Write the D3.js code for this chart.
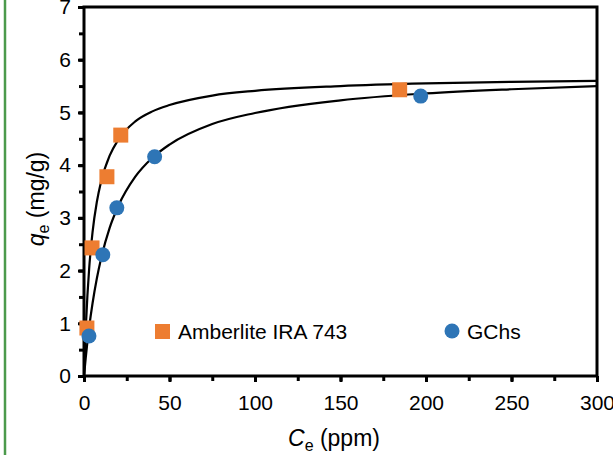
<!DOCTYPE html>
<html><head><meta charset="utf-8">
<script src="https://cdn.jsdelivr.net/npm/d3@7"></script>
<style>html,body{margin:0;padding:0;background:#fff;}svg{display:block;}</style>
</head><body>
<svg id="c" width="613" height="455"></svg>
<script>
// Data
const amberliteC = [1.7, 4.7, 13.4, 21.5, 184.6];
const amberliteQ = [0.91, 2.43, 3.78, 4.57, 5.43];
const gchsC = [2.9, 11, 19.2, 41.3, 196.9];
const gchsQ = [0.76, 2.30, 3.19, 4.16, 5.31];
// Fitted curves
const fitAmbC = [0, 0.5, 1, 2, 3, 5, 7.5, 10, 15, 20, 30, 40, 50, 75, 100, 150, 200, 250, 300];
const fitAmbQ = [0, 0.48, 0.885, 1.53, 2.03, 2.73, 3.30, 3.69, 4.18, 4.48, 4.83, 5.02, 5.14, 5.32, 5.41, 5.50, 5.55, 5.58, 5.60];
const fitGChC = [0, 1, 2, 3, 5, 7.5, 10, 15, 20, 30, 40, 50, 75, 100, 150, 200, 250, 300];
const fitGChQ = [0, 0.34, 0.645, 0.92, 1.38, 1.85, 2.23, 2.81, 3.22, 3.78, 4.14, 4.39, 4.78, 4.99, 5.23, 5.36, 5.44, 5.50];
const xTicks = [0, 50, 100, 150, 200, 250, 300];
const yTicks = [0, 1, 2, 3, 4, 5, 6, 7];
const seriesNames = ["Amberlite IRA 743", "GChs"];
const colors = ["#ED7D31", "#2E75B6"];

const svg = d3.select("#c");
const x = d3.scaleLinear().domain([0, 300]).range([84, 597]);
const y = d3.scaleLinear().domain([0, 7]).range([376, 7]);
const font = "Arial, 'Liberation Sans', sans-serif";

// green side line
svg.append("line").attr("x1", 5).attr("x2", 5).attr("y1", 0).attr("y2", 455)
  .attr("stroke", "#4C9A4C").attr("stroke-width", 2.5);

// minor ticks
const gx = svg.append("g").attr("transform", "translate(0,376)");
gx.call(d3.axisBottom(x).tickValues(d3.range(0, 301, 25)).tickSize(5).tickFormat(""));
gx.select(".domain").remove();
gx.selectAll("line").attr("stroke", "#000").attr("stroke-width", 3);
const gxl = svg.append("g").attr("transform", "translate(0,376)");
gxl.call(d3.axisBottom(x).tickValues(xTicks).tickSize(6).tickPadding(13).tickFormat(d3.format("d")));
gxl.select(".domain").remove();
gxl.selectAll("line").attr("stroke", "#000").attr("stroke-width", 3);
gxl.selectAll("text").attr("font-family", font).attr("font-size", 21).attr("fill", "#000");

const gy = svg.append("g").attr("transform", "translate(84,0)");
gy.call(d3.axisLeft(y).tickValues(d3.range(0, 7.01, 0.5)).tickSize(5).tickFormat(""));
gy.select(".domain").remove();
gy.selectAll("line").attr("stroke", "#000").attr("stroke-width", 3);
const gyl = svg.append("g").attr("transform", "translate(84,0)");
gyl.call(d3.axisLeft(y).tickValues(yTicks).tickSize(6).tickPadding(7).tickFormat(d3.format("d")));
gyl.select(".domain").remove();
gyl.selectAll("line").attr("stroke", "#000").attr("stroke-width", 3);
gyl.selectAll("text").attr("font-family", font).attr("font-size", 21).attr("fill", "#000");

// frame
svg.append("rect").attr("x", x(0)).attr("y", y(7)).attr("width", x(300) - x(0)).attr("height", y(0) - y(7))
  .attr("fill", "none").attr("stroke", "#000").attr("stroke-width", 3);

// fitted curves
const line = d3.line().x(d => x(d[0])).y(d => y(d[1])).curve(d3.curveMonotoneX);
svg.append("path").datum(fitAmbC.map((c, i) => [c, fitAmbQ[i]])).attr("d", line)
  .attr("fill", "none").attr("stroke", "#000").attr("stroke-width", 2.2);
svg.append("path").datum(fitGChC.map((c, i) => [c, fitGChQ[i]])).attr("d", line)
  .attr("fill", "none").attr("stroke", "#000").attr("stroke-width", 2.2);

// points
const sq = 15;
svg.selectAll("rect.amb").data(amberliteC.map((c, i) => [c, amberliteQ[i]])).enter().append("rect")
  .attr("class", "amb").attr("x", d => x(d[0]) - sq / 2).attr("y", d => y(d[1]) - sq / 2)
  .attr("width", sq).attr("height", sq).attr("fill", colors[0]);
svg.selectAll("circle.gch").data(gchsC.map((c, i) => [c, gchsQ[i]])).enter().append("circle")
  .attr("class", "gch").attr("cx", d => x(d[0])).attr("cy", d => y(d[1])).attr("r", 7.5).attr("fill", colors[1]);

// legend
svg.append("rect").attr("x", 155).attr("y", 324).attr("width", sq).attr("height", sq).attr("fill", colors[0]);
svg.append("text").attr("x", 178).attr("y", 339).attr("font-family", font).attr("font-size", 21).text(seriesNames[0]);
svg.append("circle").attr("cx", 452).attr("cy", 331).attr("r", 7.5).attr("fill", colors[1]);
svg.append("text").attr("x", 467).attr("y", 339).attr("font-family", font).attr("font-size", 21).text(seriesNames[1]);

// axis titles
const xt = svg.append("text").attr("x", 334).attr("y", 446).attr("text-anchor", "middle")
  .attr("font-family", font).attr("font-size", 23);
xt.append("tspan").attr("font-style", "italic").text("C");
xt.append("tspan").attr("font-size", 16).attr("dy", 5).text("e");
xt.append("tspan").attr("dy", -5).text(" (ppm)");

const yt = svg.append("text").attr("transform", "translate(44,199) rotate(-90)").attr("text-anchor", "middle")
  .attr("font-family", font).attr("font-size", 23);
yt.append("tspan").attr("font-style", "italic").text("q");
yt.append("tspan").attr("font-size", 16).attr("dy", 5).text("e");
yt.append("tspan").attr("dy", -5).text(" (mg/g)");
</script>
</body></html>
